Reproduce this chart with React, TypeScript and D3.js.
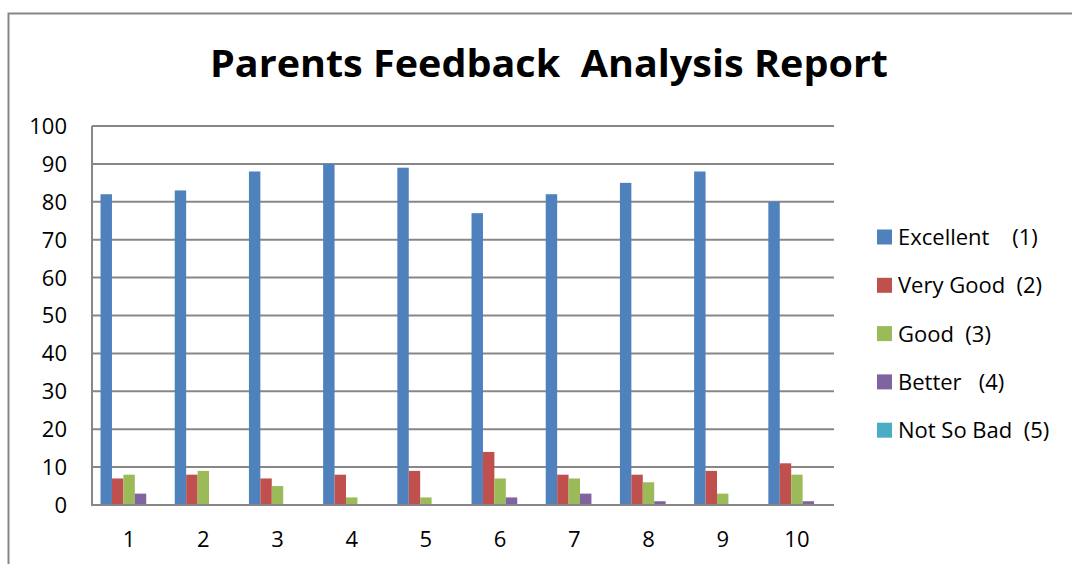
import { useEffect, useRef } from "react"
import * as d3 from "d3"

const categories = ["1", "2", "3", "4", "5", "6", "7", "8", "9", "10"]
const seriesNames = ["Excellent    (1)", "Very Good  (2)", "Good  (3)", "Better   (4)", "Not So Bad  (5)"]
const seriesColors = ["#4F81BD", "#C0504D", "#9BBB59", "#8064A2", "#4BACC6"]

const excellent = [82, 83, 88, 90, 89, 77, 82, 85, 88, 80]
const veryGood = [7, 8, 7, 8, 9, 14, 8, 8, 9, 11]
const good = [8, 9, 5, 2, 2, 7, 7, 6, 3, 8]
const better = [3, 0, 0, 0, 0, 2, 3, 1, 0, 1]
const notSoBad = [0, 0, 0, 0, 0, 0, 0, 0, 0, 0]

const yTicks = [0, 10, 20, 30, 40, 50, 60, 70, 80, 90, 100]

const FONT = "'Open Sans', Lato, sans-serif"

export default function App() {
  const svgRef = useRef<SVGSVGElement>(null)

  useEffect(() => {
    if (!svgRef.current) return
    const svg = d3.select(svgRef.current)
    svg.selectAll("*").remove()

    const width = 1072
    const height = 564
    const plot = { left: 92, top: 126, right: 834, bottom: 505 }

    const allSeries = [excellent, veryGood, good, better, notSoBad]

    // Outer chart border (only top and left visible in the frame)
    svg
      .append("rect")
      .attr("x", 8.5)
      .attr("y", 13.5)
      .attr("width", width + 20)
      .attr("height", height + 20)
      .attr("fill", "#fff")
      .attr("stroke", "#878787")
      .attr("stroke-width", 2)

    // Title
    svg
      .append("text")
      .attr("x", 549)
      .attr("y", 77)
      .attr("text-anchor", "middle")
      .attr("textLength", 678)
      .attr("lengthAdjust", "spacingAndGlyphs")
      .style("font-family", FONT)
      .style("font-weight", "bold")
      .style("font-size", "37px")
      .style("white-space", "pre")
      .text("Parents Feedback  Analysis Report")

    const x0 = d3.scaleBand().domain(categories).range([plot.left, plot.right]).paddingInner(0.23).paddingOuter(0.115)
    const x1 = d3.scaleBand().domain(d3.range(allSeries.length).map(String)).range([0, x0.bandwidth()])
    const y = d3.scaleLinear().domain([0, 100]).range([plot.bottom, plot.top])

    // Gridlines
    svg
      .append("g")
      .selectAll("line")
      .data(yTicks.filter((t) => t > 0))
      .enter()
      .append("line")
      .attr("x1", plot.left)
      .attr("x2", plot.right)
      .attr("y1", (d) => y(d))
      .attr("y2", (d) => y(d))
      .attr("stroke", "#878787")
      .attr("stroke-width", 2)

    // Bars
    allSeries.forEach((values, si) => {
      svg
        .append("g")
        .selectAll("rect")
        .data(values)
        .enter()
        .append("rect")
        .attr("x", (_, i) => (x0(categories[i]) || 0) + (x1(String(si)) || 0))
        .attr("y", (d) => y(d))
        .attr("width", x1.bandwidth())
        .attr("height", (d) => plot.bottom - y(d))
        .attr("fill", seriesColors[si])
    })

    // Axes lines
    svg
      .append("line")
      .attr("x1", plot.left)
      .attr("x2", plot.left)
      .attr("y1", plot.top)
      .attr("y2", plot.bottom)
      .attr("stroke", "#878787")
      .attr("stroke-width", 2)
    svg
      .append("line")
      .attr("x1", plot.left - 1)
      .attr("x2", plot.right)
      .attr("y1", plot.bottom)
      .attr("y2", plot.bottom)
      .attr("stroke", "#878787")
      .attr("stroke-width", 2)

    // Y tick labels
    svg
      .append("g")
      .selectAll("text")
      .data(yTicks)
      .enter()
      .append("text")
      .attr("x", 67)
      .attr("y", (d) => y(d))
      .attr("dy", "0.36em")
      .attr("text-anchor", "end")
      .style("font-family", FONT)
      .style("font-size", "22px")
      .text((d) => d)

    // X tick labels
    svg
      .append("g")
      .selectAll("text")
      .data(categories)
      .enter()
      .append("text")
      .attr("x", (d) => (x0(d) || 0) + x0.bandwidth() / 2)
      .attr("y", 547)
      .attr("text-anchor", "middle")
      .style("font-family", FONT)
      .style("font-size", "22px")
      .text((d) => d)

    // Legend
    const legend = svg.append("g").attr("transform", "translate(877, 237)")
    seriesNames.forEach((name, i) => {
      const row = legend.append("g").attr("transform", `translate(0, ${i * 48.3})`)
      row.append("rect").attr("x", 0).attr("y", -7.5).attr("width", 15).attr("height", 15).attr("fill", seriesColors[i])
      row
        .append("text")
        .attr("x", 21)
        .attr("y", 0)
        .attr("dy", "0.37em")
        .style("font-family", FONT)
        .style("font-size", "22px")
        .style("white-space", "pre")
        .text(name)
    })
  }, [])

  return (
    <div style={{ position: "absolute", left: 0, top: 0 }}>
      <svg ref={svgRef} width={1072} height={564} style={{ display: "block" }} />
    </div>
  )
}
